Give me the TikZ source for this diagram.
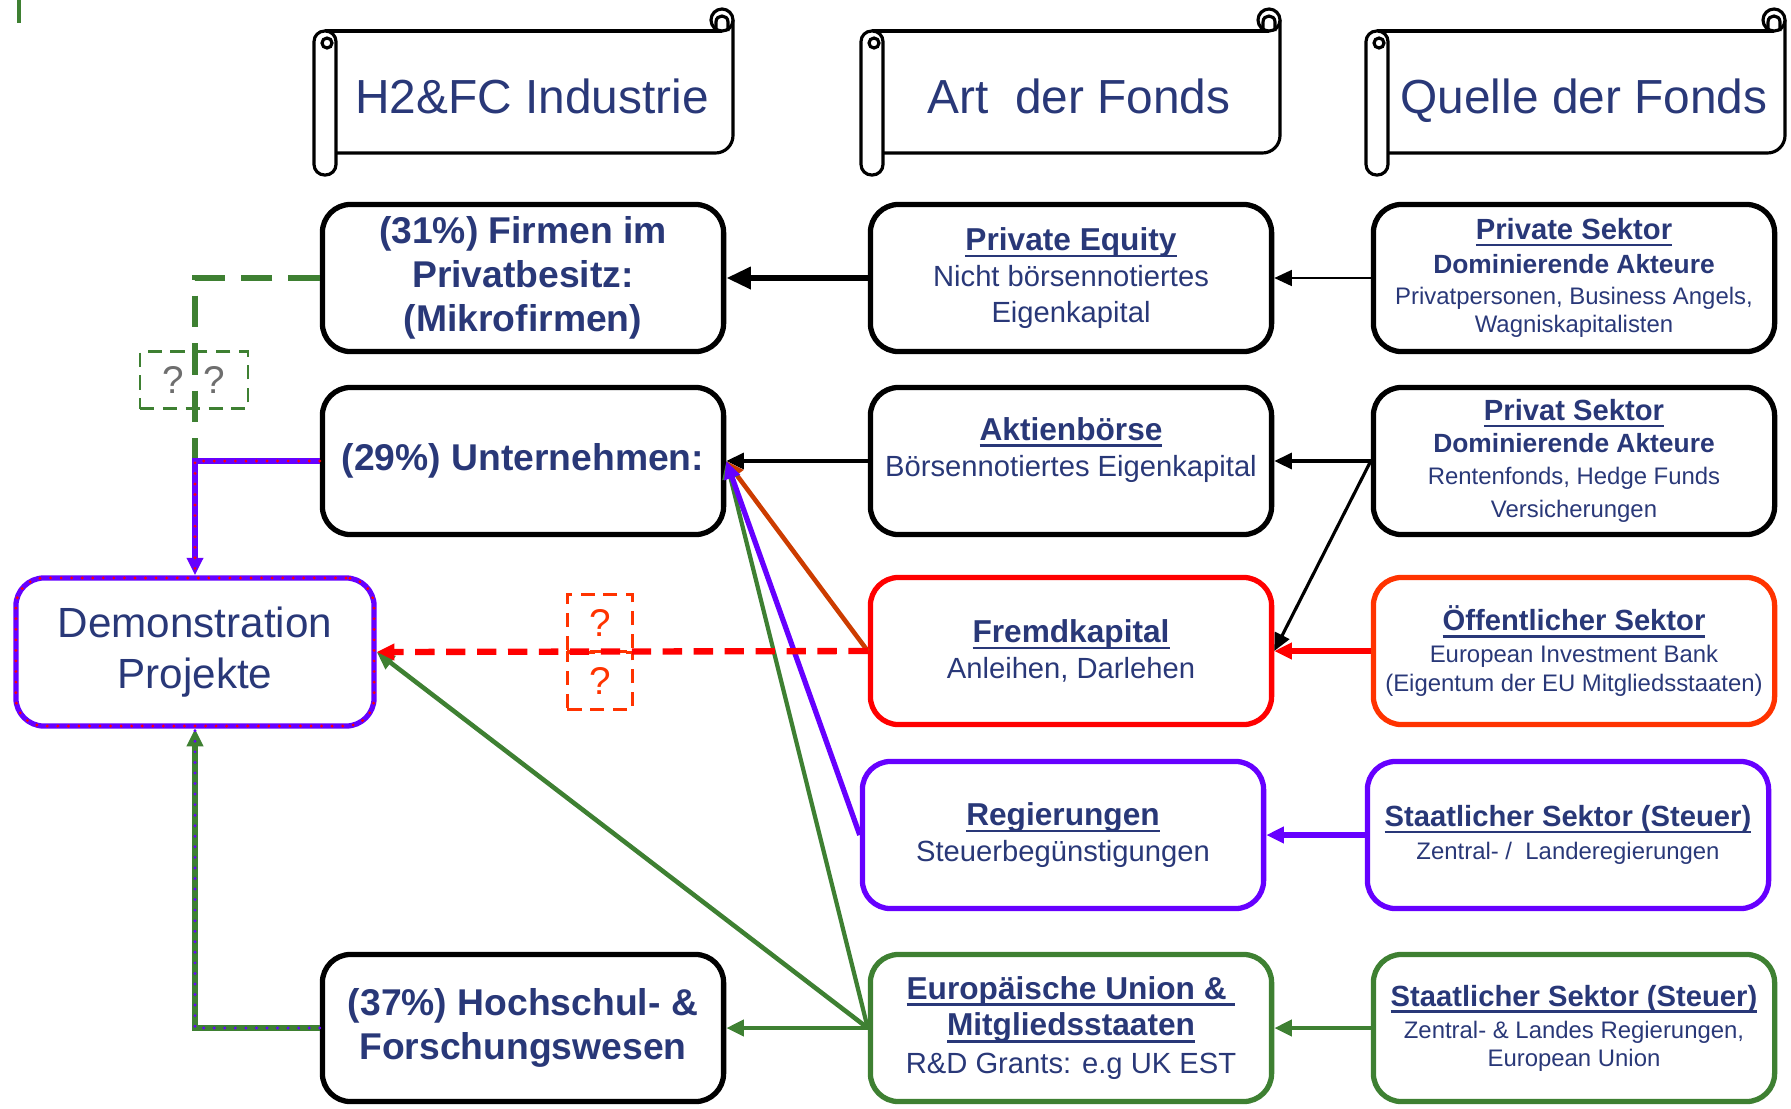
\documentclass[tikz,border=0pt]{standalone}
\usepackage{fontspec}
\setmainfont{Liberation Sans}
\usetikzlibrary{arrows.meta}

\definecolor{navy}{RGB}{41,56,120}
\definecolor{gruen}{RGB}{62,128,50}
\definecolor{lila}{RGB}{102,0,255}
\definecolor{rost}{RGB}{204,60,0}
\definecolor{orangerot}{RGB}{255,51,0}
\definecolor{grau}{RGB}{110,110,110}

\newcommand{\unterstrich}[1]{\setbox0\hbox{#1}\rlap{\rule[-1.9pt]{\wd0}{0.7pt}}\box0}

\tikzset{
  box/.style={rounded corners=8pt, line width=1.5pt, align=center, text=navy, inner sep=1pt,
    minimum width=4.01cm, minimum height=1.47cm},
  kopftext/.style={text=navy, anchor=base, font=\fontsize{13.6}{16}\selectfont},
  rolle/.style={line width=0.9pt, fill=white},
  fragebox/.style={line width=0.8pt, dash pattern=on 4pt off 2.5pt, minimum height=0.57cm,
    inner sep=0pt, font=\fontsize{11}{13}\selectfont},
  pfeil/.style={-{Triangle[length=5pt,width=4.5pt]}},
  punkte/.style={postaction={draw=#1, -, line width=0.9pt, line cap=round, dash pattern=on 0pt off 3pt}}
}

\begin{document}
\begin{tikzpicture}[x=0.01cm, y=-0.01cm]
\useasboundingbox (0,0) rectangle (1791,1108);

% scroll headers
\foreach \sx/\nm/\txt in {314/kopfind/{H2\&FC Industrie}, 861/kopfart/{Art~ der Fonds}, 1366/kopfquelle/{Quelle der Fonds}}{
  \draw[rolle, rounded corners=5pt] (\sx+419,20) -- (\sx+419,153) -- (\sx+22,153);
  \draw[rolle] (\sx+11,31) -- (\sx+408,31);
  \draw[rolle] (\sx+408,20) circle[radius=11];
  \draw[line width=0.9pt] (\sx+402,31) -- (\sx+402,22) .. controls (\sx+402,14) and (\sx+414,14) .. (\sx+414,22) -- (\sx+414,31);
  \draw[rolle, rounded corners=3pt] (\sx,31) rectangle (\sx+22,175);
  \draw[line width=0.9pt] (\sx+13,43) circle[radius=5];
  \node[kopftext] (\nm) at (\sx+218,113) {\txt};
}

\draw[gruen, line width=1pt] (19,0) -- (19,23);

% H2&FC Industrie
\node[box, draw=black, font=\fontsize{10.6}{12.5}\selectfont\bfseries] (firmen) at (523,278) {(31\%) Firmen im\\Privatbesitz:\\(Mikrofirmen)};
\node[box, draw=black, font=\fontsize{10.6}{12.5}\selectfont\bfseries] (unt) at (523,461) {(29\%) Unternehmen:};
\node[box, draw=black, font=\fontsize{10.6}{12.5}\selectfont\bfseries] (hoch) at (523,1028) {(37\%) Hochschul- \&\\Forschungswesen};
\node[box, draw=lila, punkte=red, minimum width=3.58cm, minimum height=1.48cm, font=\fontsize{12}{14.6}\selectfont] (demo) at (195,652) {Demonstration\\Projekte};

% Art der Fonds
\node[box, draw=black, font=\fontsize{8.3}{10.2}\selectfont] (pe) at (1071,278) {{\fontsize{9}{10}\selectfont\bfseries\unterstrich{Private Equity}}\\Nicht börsennotiertes\\Eigenkapital};
\node[box, draw=black] (aktien) at (1071,461) {};
\node[text=navy, align=center, font=\fontsize{8.3}{10.4}\selectfont] (aktientext) at (1071,450) {{\fontsize{9}{10}\selectfont\bfseries\unterstrich{Aktienbörse}}\\Börsennotiertes Eigenkapital};
\node[box, draw=red, font=\fontsize{8.3}{10.2}\selectfont] (fremd) at (1071,651) {{\fontsize{9}{10}\selectfont\bfseries\unterstrich{Fremdkapital}}\\Anleihen, Darlehen};
\node[box, draw=lila, font=\fontsize{8.3}{10.2}\selectfont] (reg) at (1063,835) {{\fontsize{9}{10}\selectfont\bfseries\unterstrich{Regierungen}}\\Steuerbegünstigungen};
\node[box, draw=gruen, font=\fontsize{8.3}{10.5}\selectfont] (eu) at (1071,1028) {{\fontsize{9}{10}\selectfont\bfseries\unterstrich{Europäische Union \&\ }}\\{\fontsize{9}{10}\selectfont\bfseries\unterstrich{Mitgliedsstaaten}}\\[0.3pt]R\&D Grants: e.g UK EST};

% Quelle der Fonds
\node[box, draw=black, font=\fontsize{6.8}{8}\selectfont] (privsek) at (1574,278) {{\fontsize{8.3}{9}\selectfont\bfseries\unterstrich{Private Sektor}}\\[1.7pt]{\fontsize{7.5}{8}\selectfont\bfseries Dominierende Akteure}\\[0.8pt]Privatpersonen, Business Angels,\\Wagniskapitalisten};
\node[box, draw=black, font=\fontsize{6.8}{8}\selectfont] (privat) at (1574,461) {{\fontsize{8.3}{9}\selectfont\bfseries\unterstrich{Privat Sektor}}\\[1.1pt]{\fontsize{7.5}{8}\selectfont\bfseries Dominierende Akteure}\\[1.1pt]Rentenfonds, Hedge Funds\\[1.4pt]Versicherungen};
\node[box, draw=orangerot, font=\fontsize{6.8}{8}\selectfont] (oeff) at (1574,651) {{\fontsize{8.3}{9}\selectfont\bfseries\unterstrich{Öffentlicher Sektor}}\\[1.1pt]European Investment Bank\\(Eigentum der EU Mitgliedsstaaten)};
\node[box, draw=lila, font=\fontsize{6.8}{8}\selectfont] (staat) at (1568,835) {{\fontsize{8.3}{9}\selectfont\bfseries\unterstrich{Staatlicher Sektor (Steuer)}}\\[1.5pt]Zentral- /~ Landeregierungen};
\node[box, draw=gruen, font=\fontsize{6.8}{8}\selectfont] (staateu) at (1574,1028) {{\fontsize{8.3}{9}\selectfont\bfseries\unterstrich{Staatlicher Sektor (Steuer)}}\\[1.1pt]Zentral- \& Landes Regierungen,\\European Union};

% ? boxes
\node[fragebox, draw=gruen, text=grau, minimum width=1.08cm] (frage1) at (194,380) {?\enspace?};
\node[fragebox, draw=orangerot, text=orangerot, minimum width=0.65cm] (frage2) at (600,623) {?};
\node[fragebox, draw=orangerot, text=orangerot, minimum width=0.65cm] (frage3) at (600,681) {?};

% connectors
\draw[-{Triangle[length=7pt,width=6pt]}, line width=1.8pt] (pe.west) -- (firmen.east);
\draw[pfeil, line width=0.6pt] (privsek.west) -- (pe.east);
\draw[pfeil, line width=1.1pt] (aktien.west) -- (unt.east);
\draw[pfeil, line width=1pt] (privat.west) -- (aktien.east);
\draw[pfeil, line width=0.9pt] (privat.west) -- (fremd.east);
\draw[pfeil, red, line width=1.5pt] (oeff.west) -- (fremd.east);
\draw[pfeil, lila, line width=1.5pt] (staat.west) -- (reg.east);
\draw[pfeil, gruen, line width=1.3pt] (staateu.west) -- (eu.east);
\draw[pfeil, gruen, line width=1.3pt] (eu.west) -- (hoch.east);
\draw[pfeil, gruen, line width=1.3pt] (eu.west) -- (demo.east);
\draw[pfeil, rost, line width=1.3pt] (fremd.west) -- (unt.east);
\draw[pfeil, gruen, line width=1.2pt] (eu.west) -- (unt.east);
\draw[pfeil, lila, line width=1.5pt] (reg.west) -- (unt.east);
\draw[pfeil, red, line width=1.8pt, dash pattern=on 5.5pt off 3.3pt] (fremd.west) -- (demo.east);
\draw[gruen, line width=1.8pt, dash pattern=on 9pt off 4.5pt] (firmen.west) -| (demo.north |- unt.west);
\draw[pfeil, lila, line width=1.6pt, punkte=red] (unt.west) -| (demo.north);
\draw[pfeil, gruen, line width=1.6pt, punkte=lila] (hoch.west) -| (demo.south);

\end{tikzpicture}
\end{document}
